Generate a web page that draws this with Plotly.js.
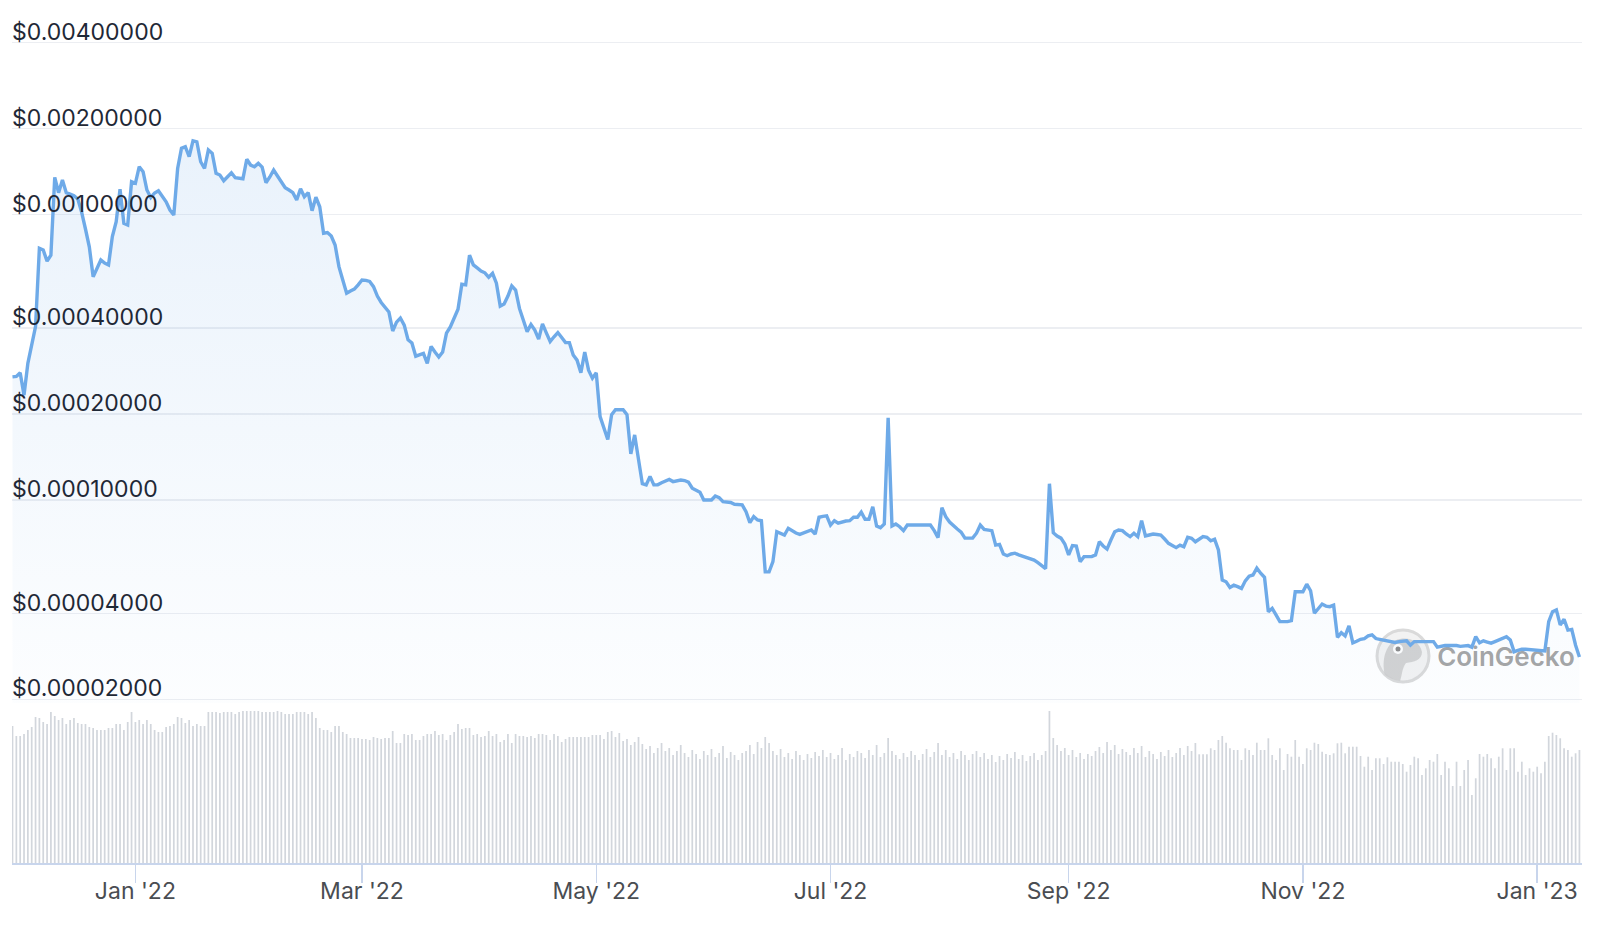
<!DOCTYPE html>
<html>
<head>
<meta charset="utf-8">
<script src="https://cdn.plot.ly/plotly-3.0.1.min.js"></script>
<style>html,body{margin:0;padding:0;background:#fff;}#chart{width:1600px;height:932px;}</style>
</head>
<body>
<div id="chart"></div>
<script>
// ---------------- DATA ----------------
// Daily series, first day 2021-11-30
const startDate = '2021-11-30';

// price in units of 1e-5 USD (log scale)
const priceE5 = [
27.0,27.1,27.9,23.3,30.1,35.4,40.5,76.2,75.1,68.7,
72.1,135.0,119.3,132.1,119.3,117.9,116.5,113.4,102.0,89.0,
77.1,60.5,65.0,69.3,67.6,66.6,83.7,94.4,122.6,93.2,
91.9,130.3,128.7,147.1,141.3,121.9,114.8,119.0,121.2,115.3,
110.9,103.7,99.6,145.0,170.6,172.8,159.5,181.4,179.9,153.1,
145.0,168.3,163.9,139.5,137.6,131.4,135.4,140.1,134.6,134.3,
133.5,156.2,149.1,147.1,151.1,146.7,129.3,135.4,143.2,136.5,
130.0,124.2,121.9,119.3,112.4,123.2,115.5,119.3,103.1,115.0,
106.5,86.0,86.5,84.1,78.2,65.7,59.0,53.0,54.0,54.8,
56.7,59.0,58.8,58.3,55.9,51.8,49.2,47.1,45.6,39.1,
42.0,43.4,41.0,36.4,35.5,31.9,32.2,32.6,30.1,34.5,
33.0,31.7,33.0,38.4,40.4,43.4,46.6,57.0,56.7,72.1,
66.6,65.0,63.4,62.5,60.3,62.2,57.5,47.8,48.6,51.8,
56.2,54.4,46.9,42.7,38.9,41.2,39.4,36.6,41.4,38.5,
35.9,37.3,38.6,37.1,35.6,35.6,32.2,30.9,27.9,33.0,
28.5,26.7,27.9,19.6,17.9,16.3,19.9,20.7,20.7,20.7,
19.9,14.5,16.9,14.0,11.4,11.3,12.1,11.3,11.3,11.5,
11.65,11.8,11.6,11.65,11.75,11.7,11.55,11.0,10.8,10.65,
10.0,10.0,10.0,10.33,10.19,9.86,9.86,9.80,9.66,9.63,
9.61,9.10,8.33,8.74,8.51,8.46,5.60,5.60,6.08,7.74,
7.63,7.54,7.96,7.79,7.66,7.58,7.66,7.79,7.85,7.60,
8.70,8.76,8.80,8.17,8.46,8.29,8.39,8.44,8.46,8.70,
8.70,9.07,8.56,8.56,9.47,8.11,8.00,8.24,19.4,8.11,
8.24,8.06,7.81,8.17,8.17,8.17,8.17,8.17,8.17,8.17,
7.81,7.38,9.40,8.74,8.37,8.11,7.91,7.72,7.35,7.35,
7.35,7.65,8.17,7.89,7.85,7.81,6.95,6.99,6.47,6.38,
6.47,6.51,6.42,6.36,6.28,6.20,6.16,6.03,5.87,5.75,
11.4,7.68,7.48,7.35,7.01,6.42,6.92,6.90,6.08,6.33,
6.33,6.33,6.42,7.14,6.90,6.73,7.24,7.74,7.85,7.81,
7.60,7.44,7.65,7.44,8.46,7.48,7.54,7.60,7.57,7.54,
7.30,7.05,6.93,6.81,6.95,6.86,7.40,7.34,7.14,7.30,
7.44,7.40,7.20,7.29,6.68,5.24,5.17,4.94,5.03,4.97,
4.90,5.21,5.41,5.46,5.77,5.54,5.36,4.06,4.17,3.96,
3.75,3.75,3.75,3.78,4.77,4.77,4.77,5.07,4.81,4.01,
4.15,4.32,4.25,4.23,4.28,3.30,3.43,3.34,3.62,3.16,
3.20,3.25,3.27,3.34,3.37,3.27,3.25,3.23,3.19,3.17,
3.17,3.19,3.20,3.21,3.10,3.19,3.19,3.19,3.18,3.17,
3.19,3.05,3.08,3.09,3.09,3.10,3.09,3.07,3.08,3.09,
3.05,3.32,3.16,3.21,3.18,3.15,3.19,3.23,3.27,3.32,
3.23,2.94,2.97,3.00,3.00,2.99,2.98,2.97,2.97,2.96,
3.75,4.06,4.12,3.65,3.82,3.50,3.52,3.10,2.82
];

// daily traded volume (relative units)
const volume = [
137,127,127,129,133,136,146,145,141,139,
151,147,143,145,139,143,145,140,139,139,
136,135,133,133,133,135,135,139,139,133,
141,151,141,143,139,143,139,133,131,131,
136,137,139,146,145,140,143,137,139,137,
137,151,151,151,150,151,151,151,149,151,
152,152,152,152,152,151,151,151,151,152,
151,149,149,149,151,151,151,149,151,145,
135,133,133,131,137,137,131,129,125,125,
125,124,124,123,126,125,124,125,125,132,
120,120,129,128,129,123,123,127,129,129,
132,128,129,123,128,131,139,134,135,135,
128,129,126,127,132,127,129,121,123,129,
120,129,127,127,126,127,125,129,129,128,
123,129,127,121,124,126,126,126,126,126,
126,128,128,
128,124,131,132,126,130,122,124,
118,121,126,119,114,117,110,115,120,112,
115,108,112,118,110,106,113,109,104,112,
108,114,106,110,117,105,111,108,103,110,
112,118,109,121,115,126,120,112,108,114,
106,110,104,112,108,103,109,105,111,107,
113,106,110,104,108,115,103,109,106,112,
110,105,113,108,118,106,110,125,112,108,
104,110,106,112,108,103,109,114,106,111,
120,108,113,106,110,104,112,108,103,109,
112,106,110,104,108,101,107,103,109,105,
111,104,108,102,107,110,103,108,112,152,
125,118,112,115,108,113,106,110,104,109,
107,112,116,110,121,113,118,109,114,111,
108,115,110,117,106,112,109,104,111,107,
113,106,110,115,108,117,112,120,
108.7,108.7,108.7,114.7,113,123,127,120.3,114.7,113,
113,103,114.7,113,108,120.3,113,113,124.7,108,
103,114.7,93,109,106.3,123,106.3,99,114.7,113,
120.3,119,111.3,109,108,109.7,119.7,120.3,109.7,116.3,
116.3,116.3,107,96.3,106.3,93,104.7,104.7,99,105.7,
101.3,101.3,101.3,99,91.3,98,106.3,104.7,88,94.7,
103,101.3,109,88,101.3,94.7,77,101.3,77,93,
103,68,84.7,109,106.3,109,104.7,94.7,106.3,114.7,
93,114.7,114.7,91.3,101.3,88,94.7,91.3,96.3,89.7,
101.3,127,130.3,128,124.7,114.7,113,106.3,109.7,113
];

const xTickVals = ['2022-01-01','2022-03-01','2022-05-01','2022-07-01','2022-09-01','2022-11-01','2023-01-01'];
const xTickText = ["Jan '22","Mar '22","May '22","Jul '22","Sep '22","Nov '22","Jan '23"];
const yTickVals = [0.00002,0.00004,0.0001,0.0002,0.0004,0.001,0.002,0.004];
const yTickText = ['$0.00002000','$0.00004000','$0.00010000','$0.00020000','$0.00040000','$0.00100000','$0.00200000','$0.00400000'];

// ---------------- BUILD ----------------
const DAY = 86400000;
const t0 = Date.parse(startDate + 'T00:00:00Z');
const dates = priceE5.map((_, i) => new Date(t0 + i * DAY).toISOString().slice(0, 10));
const price = priceE5.map(v => v * 1e-5);

function fmt(ms) { return new Date(ms).toISOString().replace('T', ' ').slice(0, 19); }

// layout geometry (pixels)
const PL = 12, PR = 1582, PT = 0, PB = 863;
const PH = PB - PT;
const py = y => (PB - y) / PH;          // pixel y -> paper
const pxp = x => (x - PL) / (PR - PL);  // pixel x -> paper
const PPD = 285.4;                      // pixels per decade on price axis
const priceTop = Math.log10(0.004) + (42.7 - 18) / PPD;
const priceBot = Math.log10(0.00002) - (703 - 699.5) / PPD;

const traces = [
  {
    type: 'bar', x: dates, y: volume, xaxis: 'x', yaxis: 'y',
    marker: { color: '#d2d6dc', line: { width: 0 } },
    hoverinfo: 'skip'
  },
  {
    type: 'scatter', mode: 'lines', x: dates, y: price, xaxis: 'x', yaxis: 'y2',
    line: { color: '#6eaae8', width: 3.4, shape: 'linear' },
    fill: 'tozeroy',
    fillgradient: { type: 'vertical', start: 0.00002, stop: 0.0018,
      colorscale: [[0, 'rgba(111,170,232,0.02)'], [1, 'rgba(111,170,232,0.15)']] },
    hoverinfo: 'skip'
  }
];

// CoinGecko watermark (decorative)
function pathPx(cmds) {
  return cmds.map(c => c[0] + ' ' + c.slice(1).map((v, i) => (i % 2 === 0 ? pxp(v) : py(v)).toFixed(5)).join(' ')).join(' ');
}
const cx = 1403, cy = 656, r = 26;
const shapes = [
  { type: 'circle', xref: 'paper', yref: 'paper', layer: 'between',
    x0: pxp(cx - r), x1: pxp(cx + r), y0: py(cy + r), y1: py(cy - r),
    fillcolor: 'rgba(240,240,240,0.85)', line: { color: 'rgba(214,214,214,0.9)', width: 3 } },
  { type: 'path', xref: 'paper', yref: 'paper', layer: 'between',
    path: pathPx([['M', 1385, 675], ['C', 1381, 660, 1386, 641, 1400, 639], ['C', 1412, 637, 1420, 643, 1422, 652],
                  ['C', 1422, 660, 1414, 662, 1406, 663], ['C', 1402, 668, 1402, 676, 1400, 681], ['C', 1394, 680, 1389, 678, 1385, 675], ['Z']]),
    fillcolor: 'rgba(205,205,205,0.85)', line: { width: 0 } },
  { type: 'circle', xref: 'paper', yref: 'paper', layer: 'between',
    x0: pxp(1393), x1: pxp(1403), y0: py(654), y1: py(644),
    fillcolor: 'rgba(255,255,255,0.95)', line: { width: 0 } },
  { type: 'circle', xref: 'paper', yref: 'paper', layer: 'between',
    x0: pxp(1395.5), x1: pxp(1400.5), y0: py(651.5), y1: py(646.5),
    fillcolor: 'rgba(125,125,125,0.9)', line: { width: 0 } },
  { type: 'rect', xref: 'paper', yref: 'paper', layer: 'between',
    x0: pxp(1434), x1: pxp(1578), y0: py(670), y1: py(640),
    line: { width: 0 }, fillcolor: 'rgba(0,0,0,0)',
    label: { text: 'CoinGecko', textposition: 'middle center',
      font: { family: 'Inter, Roboto, sans-serif', size: 26, color: 'rgba(140,140,140,0.8)', weight: 600 } } }
];

const layout = {
  width: 1600, height: 932,
  margin: { l: PL, r: 1600 - PR, t: PT, b: 932 - PB, pad: 0 },
  paper_bgcolor: '#ffffff', plot_bgcolor: '#ffffff',
  showlegend: false, bargap: 0.55,
  font: { family: 'Inter, Roboto, sans-serif' },
  xaxis: {
    type: 'date', anchor: 'y',
    range: [fmt(t0 - 0.13 * DAY), fmt(t0 + 408.67 * DAY)],
    tickmode: 'array', tickvals: xTickVals, ticktext: xTickText,
    ticks: 'outside', ticklen: 18, tickwidth: 1.5, tickcolor: '#c8d5ec',
    ticklabelstandoff: -11,
    showline: true, linecolor: '#c8d5ec', linewidth: 1.5,
    showgrid: false, zeroline: false,
    tickfont: { family: 'Inter, Roboto, sans-serif', size: 23, color: '#4a4d52' },
    fixedrange: true
  },
  yaxis: {
    domain: [0, 158 / PH], range: [0, 158],
    visible: false, showgrid: false, zeroline: false, fixedrange: true
  },
  yaxis2: {
    type: 'log', anchor: 'x',
    domain: [py(703), py(18)], range: [priceBot, priceTop],
    tickmode: 'array', tickvals: yTickVals, ticktext: yTickText,
    ticklabelposition: 'inside top', ticklabeloverflow: 'allow',
    ticklabelstandoff: -3, ticklabelshift: 5,
    ticks: '', showline: false, zeroline: false,
    showgrid: true, gridcolor: '#eceef2', gridwidth: 1.5,
    tickfont: { family: 'Inter, Roboto, sans-serif', size: 23, color: '#1f2836' },
    fixedrange: true
  },
  shapes: shapes
};

Plotly.newPlot('chart', traces, layout, { displayModeBar: false, staticPlot: true });
</script>
</body>
</html>
